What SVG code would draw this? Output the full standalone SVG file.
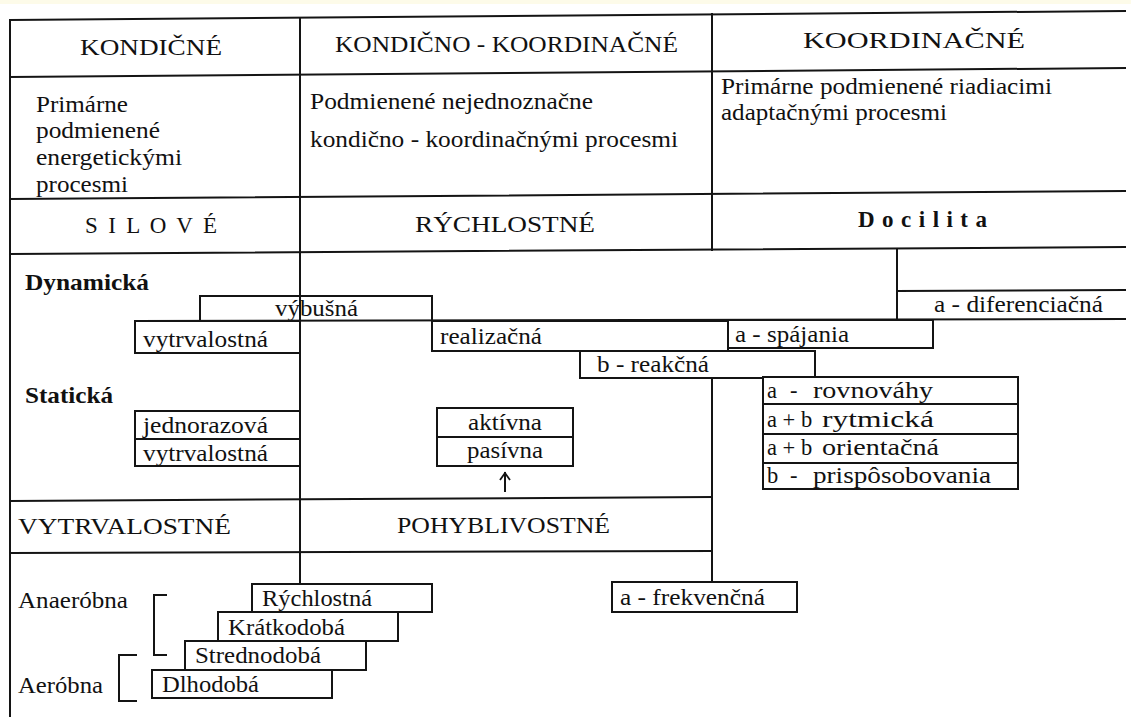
<svg xmlns="http://www.w3.org/2000/svg" width="1131" height="718" viewBox="0 0 1131 718">
<style>
.ln{stroke:#141414;stroke-width:2;fill:none;stroke-linecap:square}
.bx{stroke:#141414;stroke-width:2;fill:#fff}
.t{font-family:"Liberation Serif","Times New Roman",serif;font-size:22.5px;fill:#111}
.h{font-size:23px}
.b{font-weight:bold}
.w{font-size:24px}
</style>
<defs>
<marker id="ah" markerWidth="14" markerHeight="14" refX="10" refY="6" orient="auto" markerUnits="userSpaceOnUse">
<path d="M3,1 L10,6 L3,11" stroke="#141414" stroke-width="1.8" fill="none"/>
</marker>
</defs>
<rect x="0" y="0" width="1131" height="718" fill="#fff"/>
<rect x="0" y="0" width="1131" height="4" fill="#fdfbe9"/>

<g id="grid">
<line class="ln" x1="10" y1="20" x2="1125" y2="11"/>
<line class="ln" x1="10" y1="77" x2="1125" y2="68"/>
<line class="ln" x1="10" y1="199" x2="1125" y2="191"/>
<line class="ln" x1="10" y1="254" x2="1125" y2="247"/>
<line class="ln" x1="10" y1="501" x2="712" y2="497"/>
<line class="ln" x1="10" y1="553" x2="712" y2="551"/>
<line class="ln" x1="10" y1="20" x2="10" y2="716"/>
<line class="ln" x1="300" y1="18" x2="300" y2="584"/>
<line class="ln" x1="712" y1="14" x2="712" y2="250"/>
</g>

<g id="kondicne">
<text class="t h" x="80" y="55" textLength="142" lengthAdjust="spacingAndGlyphs">KONDIČNÉ</text>
<text class="t" x="36" y="112" textLength="92" lengthAdjust="spacingAndGlyphs">Primárne</text>
<text class="t" x="36" y="138" textLength="124" lengthAdjust="spacingAndGlyphs">podmienené</text>
<text class="t" x="36" y="165" textLength="146" lengthAdjust="spacingAndGlyphs">energetickými</text>
<text class="t" x="36" y="192" textLength="92" lengthAdjust="spacingAndGlyphs">procesmi</text>
</g>
<g id="kondicno-koordinacne">
<text class="t h" x="335" y="52" textLength="343" lengthAdjust="spacingAndGlyphs">KONDIČNO - KOORDINAČNÉ</text>
<text class="t" x="310" y="109" textLength="283" lengthAdjust="spacingAndGlyphs">Podmienené nejednoznačne</text>
<text class="t" x="310" y="147" textLength="368" lengthAdjust="spacingAndGlyphs">kondično - koordinačnými procesmi</text>
</g>
<g id="koordinacne">
<text class="t h" x="803" y="48" textLength="222" lengthAdjust="spacingAndGlyphs">KOORDINAČNÉ</text>
<text class="t" x="721" y="94" textLength="331" lengthAdjust="spacingAndGlyphs">Primárne podmienené riadiacimi</text>
<text class="t" x="721" y="120" textLength="226" lengthAdjust="spacingAndGlyphs">adaptačnými procesmi</text>
</g>
<g id="silove">
<text class="t h" x="85" y="233" textLength="132" lengthAdjust="spacing">S I L O V É</text>
</g>
<g id="rychlostne">
<text class="t h" x="415" y="232" textLength="180" lengthAdjust="spacingAndGlyphs">RÝCHLOSTNÉ</text>
</g>
<g id="docilita">
<text class="t h b" x="858" y="227" textLength="129" lengthAdjust="spacing">D o c i l i t a</text>
</g>

<g id="connectors">
<line class="ln" x1="897" y1="249" x2="897" y2="319"/>
<line class="ln" x1="712" y1="378" x2="712" y2="582"/>
<line class="ln" x1="135" y1="321" x2="1125" y2="319"/>
<line class="ln" stroke-width="1.8" x1="505" y1="491" x2="505" y2="473" marker-end="url(#ah)"/>
</g>

<g id="dynamicka">
<text class="t b" x="25" y="290" textLength="124" lengthAdjust="spacingAndGlyphs">Dynamická</text>
</g>
<g id="vybusna">
<polyline class="ln" points="200,321 200,296 432,296 432,321"/>
<text class="t" x="275" y="316" textLength="83" lengthAdjust="spacingAndGlyphs">výbušná</text>
</g>
<g id="vytrvalostna-dyn">
<rect class="bx" x="135" y="321" width="165" height="32"/>
<text class="t" x="143" y="347" textLength="125" lengthAdjust="spacingAndGlyphs">vytrvalostná</text>
</g>
<g id="realizacna">
<rect class="bx" x="432" y="321" width="296" height="30"/>
<text class="t" x="440" y="344" textLength="102" lengthAdjust="spacingAndGlyphs">realizačná</text>
</g>
<g id="spajania">
<rect class="bx" x="728" y="320" width="205" height="28"/>
<text class="t" x="735" y="342" textLength="114" lengthAdjust="spacingAndGlyphs">a - spájania</text>
</g>
<g id="diferenciacna">
<polyline class="ln" points="897,319 897,291 1125,290"/>
<text class="t" x="934" y="312" textLength="169" lengthAdjust="spacingAndGlyphs">a - diferenciačná</text>
</g>
<g id="reakcna">
<rect class="bx" x="580" y="351" width="235" height="27"/>
<text class="t" x="597" y="372" textLength="112" lengthAdjust="spacingAndGlyphs">b - reakčná</text>
</g>
<g id="staticka">
<text class="t b" x="25" y="403" textLength="88" lengthAdjust="spacingAndGlyphs">Statická</text>
</g>
<g id="jednorazova">
<rect class="bx" x="135" y="411" width="165" height="28"/>
<text class="t" x="143" y="433" textLength="125" lengthAdjust="spacingAndGlyphs">jednorazová</text>
</g>
<g id="vytrvalostna-stat">
<rect class="bx" x="135" y="439" width="165" height="27"/>
<text class="t" x="143" y="461" textLength="125" lengthAdjust="spacingAndGlyphs">vytrvalostná</text>
</g>
<g id="aktivna">
<rect class="bx" x="437" y="408" width="136" height="29"/>
<text class="t" x="468" y="430" textLength="74" lengthAdjust="spacingAndGlyphs">aktívna</text>
</g>
<g id="pasivna">
<rect class="bx" x="437" y="437" width="136" height="29"/>
<text class="t" x="467" y="458" textLength="76" lengthAdjust="spacingAndGlyphs">pasívna</text>
</g>
<g id="rovnovahy">
<rect class="bx" x="763" y="377" width="255" height="27"/>
<text class="t" x="767" y="398">a <tspan x="790">- </tspan><tspan class="w" x="813" textLength="120" lengthAdjust="spacingAndGlyphs">rovnováhy</tspan></text>
</g>
<g id="rytmicka">
<rect class="bx" x="763" y="404" width="255" height="30"/>
<text class="t" x="767" y="427">a + b <tspan class="w" x="822" textLength="112" lengthAdjust="spacingAndGlyphs">rytmická</tspan></text>
</g>
<g id="orientacna">
<rect class="bx" x="763" y="434" width="255" height="29"/>
<text class="t" x="767" y="455">a + b <tspan class="w" x="822" textLength="117" lengthAdjust="spacingAndGlyphs">orientačná</tspan></text>
</g>
<g id="prisposobovania">
<rect class="bx" x="763" y="463" width="255" height="26"/>
<text class="t" x="767" y="483">b <tspan x="790">- </tspan><tspan class="w" x="813" textLength="178" lengthAdjust="spacingAndGlyphs">prispôsobovania</tspan></text>
</g>

<g id="vytrvalostne">
<text class="t h" x="18" y="534" textLength="213" lengthAdjust="spacingAndGlyphs">VYTRVALOSTNÉ</text>
</g>
<g id="pohyblivostne">
<text class="t h" x="397" y="533" textLength="213" lengthAdjust="spacingAndGlyphs">POHYBLIVOSTNÉ</text>
</g>
<g id="frekvencna">
<rect class="bx" x="612" y="582" width="185" height="30"/>
<text class="t" x="620" y="605" textLength="145" lengthAdjust="spacingAndGlyphs">a - frekvenčná</text>
</g>
<g id="anaerobna">
<text class="t" x="18" y="608" textLength="110" lengthAdjust="spacingAndGlyphs">Anaeróbna</text>
<polyline class="ln" stroke-width="1.6" points="166,595 154,595 154,655 166,655"/>
</g>
<g id="aerobna">
<text class="t" x="18" y="693" textLength="85" lengthAdjust="spacingAndGlyphs">Aeróbna</text>
<polyline class="ln" stroke-width="1.6" points="136,655 119,655 119,701 136,701"/>
</g>
<g id="rychlostna">
<rect class="bx" x="252" y="584" width="180" height="28"/>
<text class="t" x="262" y="606" textLength="110" lengthAdjust="spacingAndGlyphs">Rýchlostná</text>
</g>
<g id="kratkodoba">
<rect class="bx" x="218" y="612" width="180" height="29"/>
<text class="t" x="228" y="635" textLength="117" lengthAdjust="spacingAndGlyphs">Krátkodobá</text>
</g>
<g id="strednodoba">
<rect class="bx" x="185" y="641" width="181" height="29"/>
<text class="t" x="195" y="663" textLength="126" lengthAdjust="spacingAndGlyphs">Strednodobá</text>
</g>
<g id="dlhodoba">
<rect class="bx" x="152" y="670" width="180" height="28"/>
<text class="t" x="162" y="692" textLength="97" lengthAdjust="spacingAndGlyphs">Dlhodobá</text>
</g>
</svg>
